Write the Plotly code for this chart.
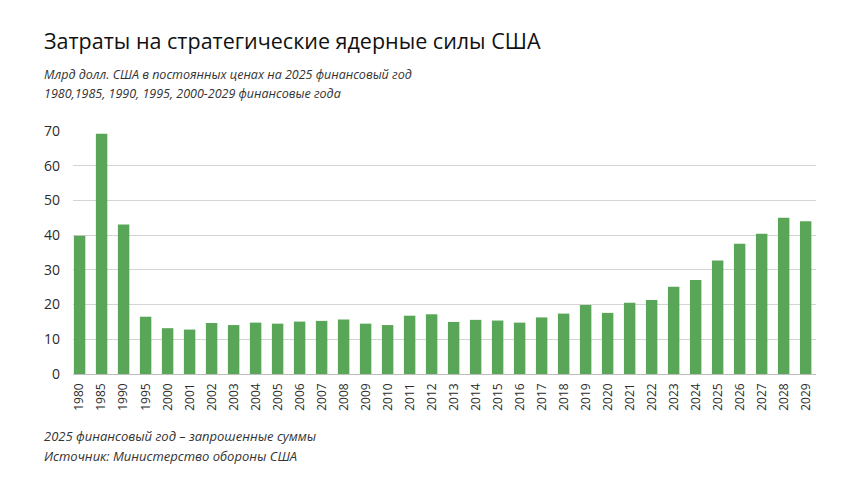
import plotly.graph_objects as go

years = ["1980", "1985", "1990", "1995", "2000", "2001", "2002", "2003", "2004",
         "2005", "2006", "2007", "2008", "2009", "2010", "2011", "2012", "2013",
         "2014", "2015", "2016", "2017", "2018", "2019", "2020", "2021", "2022",
         "2023", "2024", "2025", "2026", "2027", "2028", "2029"]
spending = [39.8, 69.2, 43.1, 16.5, 13.2, 12.8, 14.7, 14.1, 14.8,
            14.5, 15.1, 15.3, 15.7, 14.5, 14.1, 16.8, 17.2, 15.0,
            15.6, 15.4, 14.8, 16.3, 17.4, 19.9, 17.6, 20.5, 21.3,
            25.1, 27.1, 32.7, 37.5, 40.4, 45.0, 44.0]
y_ticks = [0, 10, 20, 30, 40, 50, 60, 70]

title = "Затраты на стратегические ядерные силы США"
subtitle_1 = "Млрд долл. США в постоянных ценах на 2025 финансовый год"
subtitle_2 = "1980,1985, 1990, 1995, 2000-2029 финансовые года"
note_1 = "2025 финансовый год – запрошенные суммы"
note_2 = "Источник: Министерство обороны США"

FONT = "'Open Sans', Lato, sans-serif"
TEXT = "#2b2b2b"

# the page body adds an 8px offset, so positions below are page pixels minus 8
W, H = 860, 484
ML, MR, MT, MB = 65, 52, 123, 118

fig = go.Figure()
fig.add_trace(go.Bar(
    x=years,
    y=spending,
    marker=dict(color="#5aa658", line=dict(width=0)),
    width=0.52,
    hoverinfo="x+y",
))

fig.update_layout(
    width=W,
    height=H,
    paper_bgcolor="white",
    plot_bgcolor="white",
    margin=dict(l=ML, r=MR, t=MT, b=MB),
    showlegend=False,
    font=dict(family=FONT, color=TEXT, size=13),
)

fig.update_xaxes(
    type="category",
    range=[-0.3, 33.47],
    tickangle=-90,
    tickfont=dict(size=12, color=TEXT),
    showgrid=False,
    showline=False,
    ticks="",
    ticklabelstandoff=6,
)
fig.update_yaxes(
    range=[0, 70],
    tickvals=y_ticks,
    tickfont=dict(size=14, color=TEXT),
    showgrid=True,
    gridcolor="#d4d4d4",
    gridwidth=1,
    zeroline=True,
    zerolinecolor="#bdbdbd",
    zerolinewidth=1,
    showline=False,
    ticks="",
    ticklabelstandoff=12,
)

annots = [
    dict(text=title, x=34, y=32, size=21.5, italic=False, color="#111111"),
    dict(text=subtitle_1, x=34, y=66, size=12.5, italic=True, color="#333333"),
    dict(text=subtitle_2, x=34, y=86, size=12.5, italic=True, color="#333333"),
    dict(text=note_1, x=34, y=428, size=13, italic=True, color="#333333"),
    dict(text=note_2, x=34, y=448, size=13, italic=True, color="#333333"),
]
for a in annots:
    txt = f"<i>{a['text']}</i>" if a["italic"] else a["text"]
    fig.add_annotation(
        text=txt,
        xref="paper", yref="paper",
        x=(a["x"] - ML) / (W - ML - MR),
        y=(H - MB - a["y"]) / (H - MT - MB),
        xanchor="left", yanchor="middle",
        showarrow=False,
        font=dict(size=a["size"], color=a["color"], family=FONT),
    )

fig.write_html("out.html")
